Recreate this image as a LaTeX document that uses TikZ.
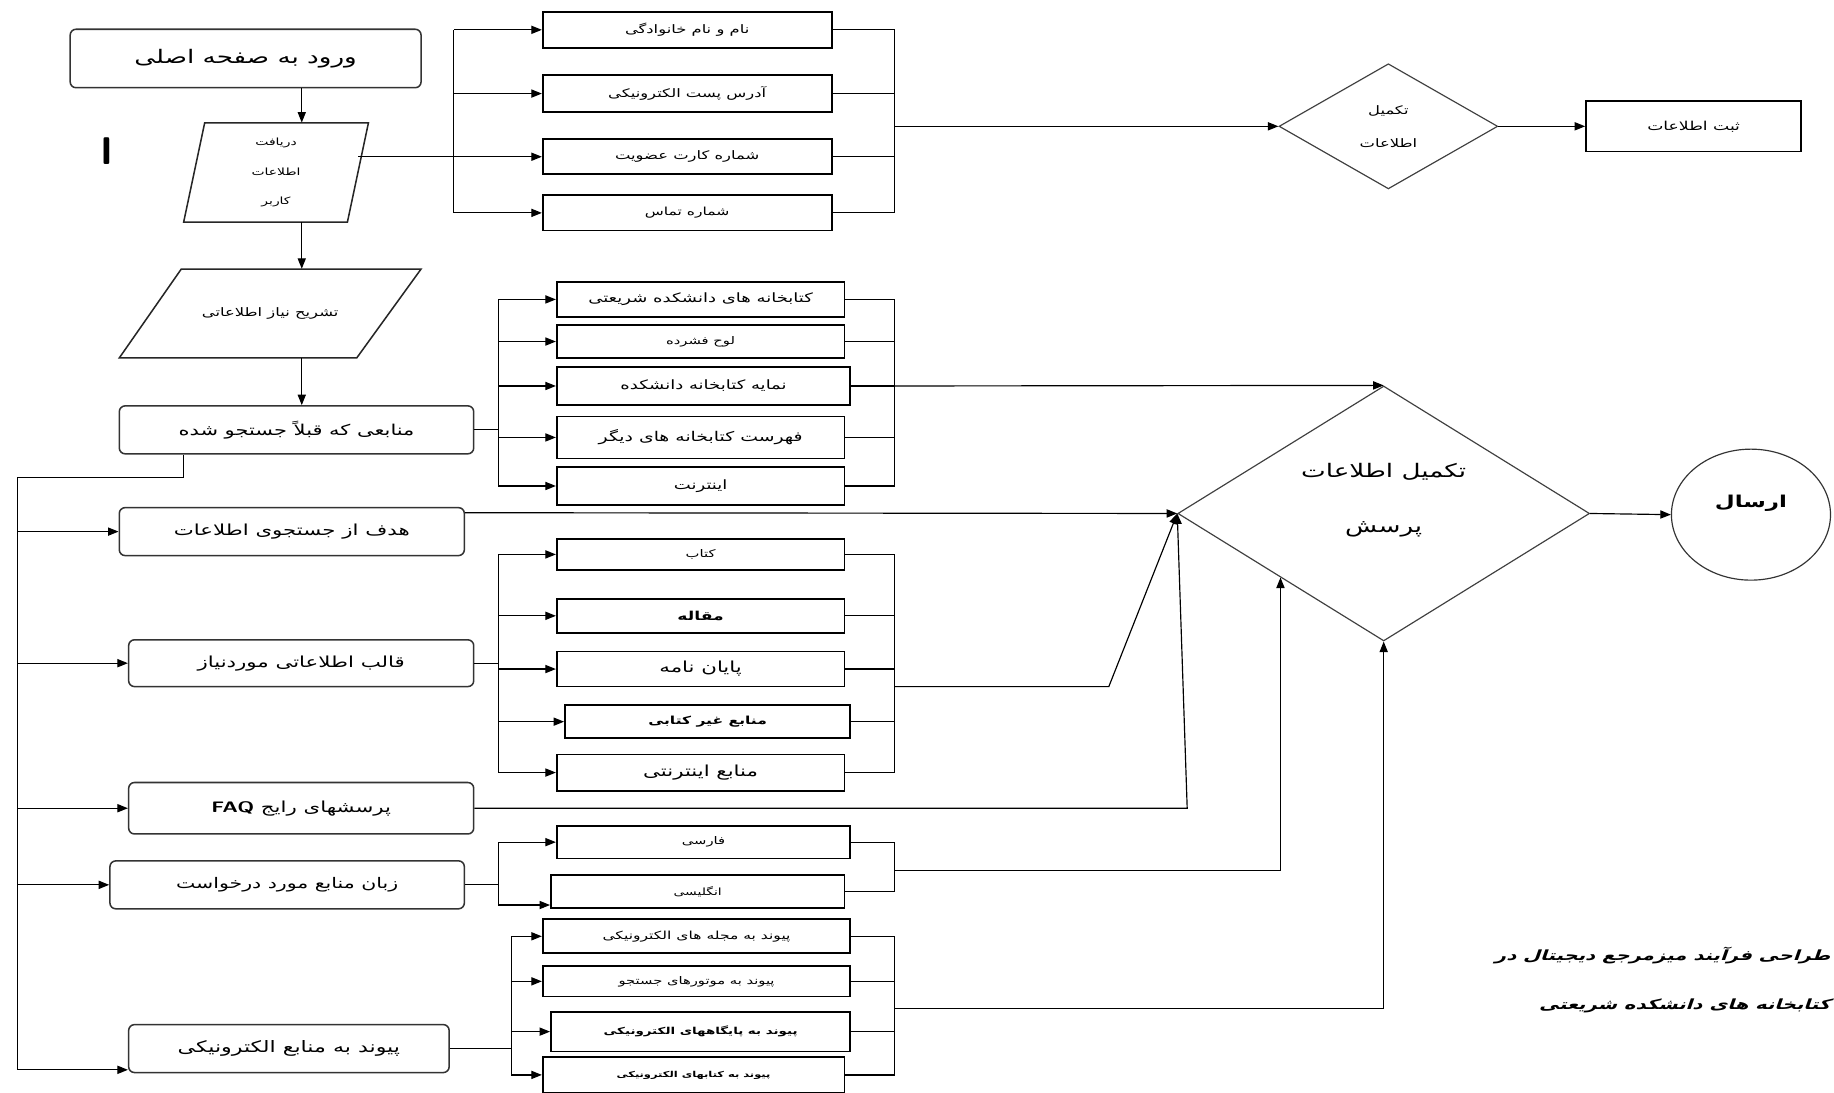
\documentclass[tikz,border=0pt]{standalone}
\usepackage{fontspec}
\usepackage{graphicx}
\usetikzlibrary{arrows.meta,shapes.geometric,calc}
\TeXXeTstate=1
\newfontfamily\arabicfont[Script=Arabic]{DejaVu Sans}
\newfontfamily\arabicit[Script=Arabic,FakeSlant=0.25]{DejaVu Sans}
\newcommand{\fatxt}[1]{\scalebox{1.4}[1]{\arabicfont\beginR #1\endR}}
\newcommand{\fait}[1]{\scalebox{1.4}[1]{\arabicit\beginR #1\endR}}
\newcommand{\setfs}[1]{\fontsize{#1}{#1}\selectfont}
\tikzset{
  rbox/.style={draw=black!80, line width=1.3pt, rounded corners=5pt, inner sep=0pt, align=center},
  sbox/.style={draw=black, line width=1.5pt, inner sep=0pt, align=center},
  ln/.style={line width=1pt},
  arr/.style={line width=1pt,-{Triangle[length=9pt,width=7pt]}},
  plain/.style={inner sep=0pt, align=center},
}
\begin{document}
\begin{tikzpicture}[x=1pt,y=-1pt]
\fill[white] (0,0) rectangle (1568,934);
\useasboundingbox (0,0) rectangle (1568,934);

% helper coordinates
\coordinate (cx) at (258,0);
\coordinate (sp1) at (388,0);
\coordinate (sp2) at (426,0);
\coordinate (sp5) at (437,0);
\coordinate (rp) at (765,0);

% left column
\node[rbox, minimum width=300, minimum height=50] (start) at (210,50) {\setfs{16}\fatxt{ورود به صفحه اصلی}};
\draw[line width=1.3pt, draw=black!85] (175,105) -- (315,105) -- (297,190) -- (157,190) -- cycle;
\node[plain, minimum width=140, minimum height=85, font=\fontsize{8.5}{25}\selectfont] (p1) at (236,147.5) {\fatxt{دریافت}\\\fatxt{اطلاعات}\\\fatxt{کاربر}};
\node[font=\bfseries\sffamily\fontsize{33}{33}\selectfont, inner sep=0pt] (mark) at (91,129) {I};
\draw[line width=1.3pt, draw=black!85] (155,230) -- (360,230) -- (305,306) -- (102,306) -- cycle;
\node[plain, minimum width=200, minimum height=76] (p2) at (231,268) {\setfs{10}\fatxt{تشریح نیاز اطلاعاتی}};
\node[rbox, minimum width=303, minimum height=41] (mn) at (253.5,367.5) {\setfs{12.8}\fatxt{منابعی که قبلاً جستجو شده}};
\node[rbox, minimum width=295, minimum height=41] (h) at (249.5,454.5) {\setfs{13}\fatxt{هدف از جستجوی اطلاعات}};
\node[rbox, minimum width=295, minimum height=40] (q) at (257.5,567) {\setfs{13}\fatxt{قالب اطلاعاتی موردنیاز}};
\node[rbox, minimum width=295, minimum height=44] (f) at (257.5,691) {\setfs{13}\fatxt{پرسشهای رایج \beginL\sffamily\bfseries FAQ\endL}};
\node[rbox, minimum width=303, minimum height=41] (z) at (245.5,756.5) {\setfs{12.5}\fatxt{زبان منابع مورد درخواست}};
\node[rbox, minimum width=274, minimum height=41] (pv) at (247,896.5) {\setfs{13.5}\fatxt{پیوند به منابع الکترونیکی}};

\draw[arr] (start.south -| cx) -- (p1.north -| cx);
\draw[arr] (p1.south -| cx) -- (p2.north -| cx);
\draw[arr] (p2.south -| cx) -- (mn.north -| cx);

% trunk
\coordinate (t0) at (157,408);
\coordinate (tl) at (15,408);
\coordinate (pvin) at ($(pv.south west)+(0,-3)$);
\draw[ln] (mn.south -| t0) -- (t0) -- (tl) -- (tl |- pvin);
\draw[arr] (tl |- h.west) -- (h.west);
\draw[arr] (tl |- q.west) -- (q.west);
\draw[arr] (tl |- f.west) -- (f.west);
\draw[arr] (tl |- z.west) -- (z.west);
\draw[arr] (tl |- pvin) -- (pvin);

% group 1
\node[sbox, minimum width=247, minimum height=31] (b1) at (587.5,25.5) {\setfs{10}\fatxt{نام و نام خانوادگی}};
\node[sbox, minimum width=247, minimum height=32] (b2) at (587.5,80) {\setfs{10}\fatxt{آدرس پست الکترونیکی}};
\node[sbox, minimum width=247, minimum height=30] (b3) at (587.5,134) {\setfs{10}\fatxt{شماره کارت عضویت}};
\node[sbox, minimum width=247, minimum height=30] (b4) at (587.5,182) {\setfs{9.5}\fatxt{شماره تماس}};
\draw[ln] (p1.east |- b3.west) -- (b3.west -| sp1);
\draw[ln] (b1.west -| sp1) -- (b4.west -| sp1);
\foreach \n in {b1,b2,b3,b4} {
  \draw[arr] (\n.west -| sp1) -- (\n.west);
  \draw[ln] (\n.east) -- (\n.east -| rp);
}
\draw[ln] (b1.east -| rp) -- (b4.east -| rp);
\node[diamond, draw=black!75, line width=1pt, inner sep=0pt, minimum width=187, minimum height=107, align=center, font=\fontsize{10}{28}\selectfont] (d1) at (1187,108) {\fatxt{تکمیل}\\\fatxt{اطلاعات}};
\draw[arr] (rp |- d1.west) -- (d1.west);
\node[sbox, minimum width=184, minimum height=43] (sabt) at (1448,108) {\setfs{10.5}\fatxt{ثبت اطلاعات}};
\draw[arr] (d1.east) -- (sabt.west);

% big diamond and send
\node[diamond, draw=black!75, line width=1pt, inner sep=0pt, minimum width=352, minimum height=218] (D) at (1183,439) {};
\node[plain, font=\fontsize{16}{47}\selectfont] (Dtxt) at (1183,428) {\fatxt{تکمیل اطلاعات}\\\fatxt{پرسش}};
\node[ellipse, draw=black!80, line width=1pt, minimum width=136, minimum height=112] (E) at (1497,440) {};
\node[plain] (Etxt) at (1497,430) {\setfs{14}\bfseries\fatxt{ارسال}};
\draw[arr] (D.east) -- (E.west);

% group 2
\node[sbox, minimum width=246, minimum height=30] (c1) at (599,256) {\setfs{11}\fatxt{کتابخانه های دانشکده شریعتی}};
\node[sbox, minimum width=246, minimum height=28] (c2) at (599,292) {\setfs{9}\fatxt{لوح فشرده}};
\node[sbox, minimum width=251, minimum height=32] (c3) at (601.5,330) {\setfs{11}\fatxt{نمایه کتابخانه دانشکده}};
\node[sbox, minimum width=246, minimum height=36] (c4) at (599,374) {\setfs{11.5}\fatxt{فهرست کتابخانه های دیگر}};
\node[sbox, minimum width=246, minimum height=33] (c5) at (599,415.5) {\setfs{11}\fatxt{اینترنت}};
\draw[ln] (mn.east) -- (mn.east -| sp2);
\draw[ln] (c1.west -| sp2) -- (c5.west -| sp2);
\foreach \n in {c1,c2,c3,c4,c5} {
  \draw[arr] (\n.west -| sp2) -- (\n.west);
  \draw[ln] (\n.east) -- (\n.east -| rp);
}
\draw[ln] (c1.east -| rp) -- (c5.east -| rp);
\draw[arr] (rp |- c3.east) -- (D.north);

% goal
\draw[arr] ([yshift=-5pt]h.north east) -- (D.west);

% group 3
\node[sbox, minimum width=246, minimum height=26] (k1) at (599,474) {\setfs{9}\fatxt{کتاب}};
\node[sbox, minimum width=246, minimum height=29] (k2) at (599,526.5) {\setfs{10.5}\bfseries\fatxt{مقاله}};
\node[sbox, minimum width=246, minimum height=30] (k3) at (599,572) {\setfs{13}\fatxt{پایان نامه}};
\node[sbox, minimum width=244, minimum height=28] (k4) at (605,617) {\setfs{9.5}\bfseries\fatxt{منابع غیر کتابی}};
\node[sbox, minimum width=246, minimum height=31] (k5) at (599,660.5) {\setfs{13}\fatxt{منابع اینترنتی}};
\draw[ln] (q.east) -- (q.east -| sp2);
\draw[ln] (k1.west -| sp2) -- (k5.west -| sp2);
\foreach \n in {k1,k2,k3,k4,k5} {
  \draw[arr] (\n.west -| sp2) -- (\n.west);
  \draw[ln] (\n.east) -- (\n.east -| rp);
}
\draw[ln] (k1.east -| rp) -- (k5.east -| rp);
\coordinate (qa) at (765,587);
\coordinate (qb) at (948,587);
\draw[arr] (qa) -- (qb) -- (D.west);

% FAQ
\coordinate (fb) at (1015,691);
\draw[arr] (f.east) -- (fb) -- (D.west);

% group 4
\node[sbox, minimum width=251, minimum height=28] (l1) at (601.5,720) {\setfs{9}\fatxt{فارسی}};
\node[sbox, minimum width=251, minimum height=28] (l2) at (596.5,762) {\setfs{8.5}\fatxt{انگلیسی}};
\coordinate (l2in) at ($(l2.south west)+(0,-3)$);
\draw[ln] (z.east) -- (z.east -| sp2);
\draw[ln] (l1.west -| sp2) -- (l2in -| sp2);
\draw[arr] (l1.west -| sp2) -- (l1.west);
\draw[arr] (l2in -| sp2) -- (l2in);
\draw[ln] (l1.east) -- (l1.east -| rp);
\draw[ln] (l2.east) -- (l2.east -| rp);
\draw[ln] (l1.east -| rp) -- (l2.east -| rp);
\coordinate (za) at (765,744);
\draw[arr] (za) -- (za -| D.south west) -- (D.south west);

% group 5
\node[sbox, minimum width=263, minimum height=29] (e1) at (595.5,800.5) {\setfs{9.5}\fatxt{پیوند به مجله های الکترونیکی}};
\node[sbox, minimum width=263, minimum height=26] (e2) at (595.5,839) {\setfs{9}\fatxt{پیوند به موتورهای جستجو}};
\node[sbox, minimum width=256, minimum height=34] (e3) at (599,882) {\setfs{8.2}\bfseries\fatxt{پیوند به پایگاههای الکترونیکی}};
\node[sbox, minimum width=258, minimum height=30] (e4) at (593,919) {\setfs{7}\bfseries\fatxt{پیوند به کتابهای الکترونیکی}};
\draw[ln] (pv.east) -- (pv.east -| sp5);
\draw[ln] (e1.west -| sp5) -- (e4.west -| sp5);
\foreach \n in {e1,e2,e3,e4} {
  \draw[arr] (\n.west -| sp5) -- (\n.west);
  \draw[ln] (\n.east) -- (\n.east -| rp);
}
\draw[ln] (e1.east -| rp) -- (e4.east -| rp);
\coordinate (pa) at (765,862);
\draw[arr] (pa) -- (pa -| D.south) -- (D.south);

% caption
\node[anchor=east, inner sep=0pt] (cap1) at (1565,817) {\setfs{12}\bfseries\fait{طراحی فرآیند میزمرجع دیجیتال در}};
\node[anchor=east, inner sep=0pt] (cap2) at (1565,860) {\setfs{12}\bfseries\fait{کتابخانه های دانشکده شریعتی}};
\end{tikzpicture}
\end{document}
